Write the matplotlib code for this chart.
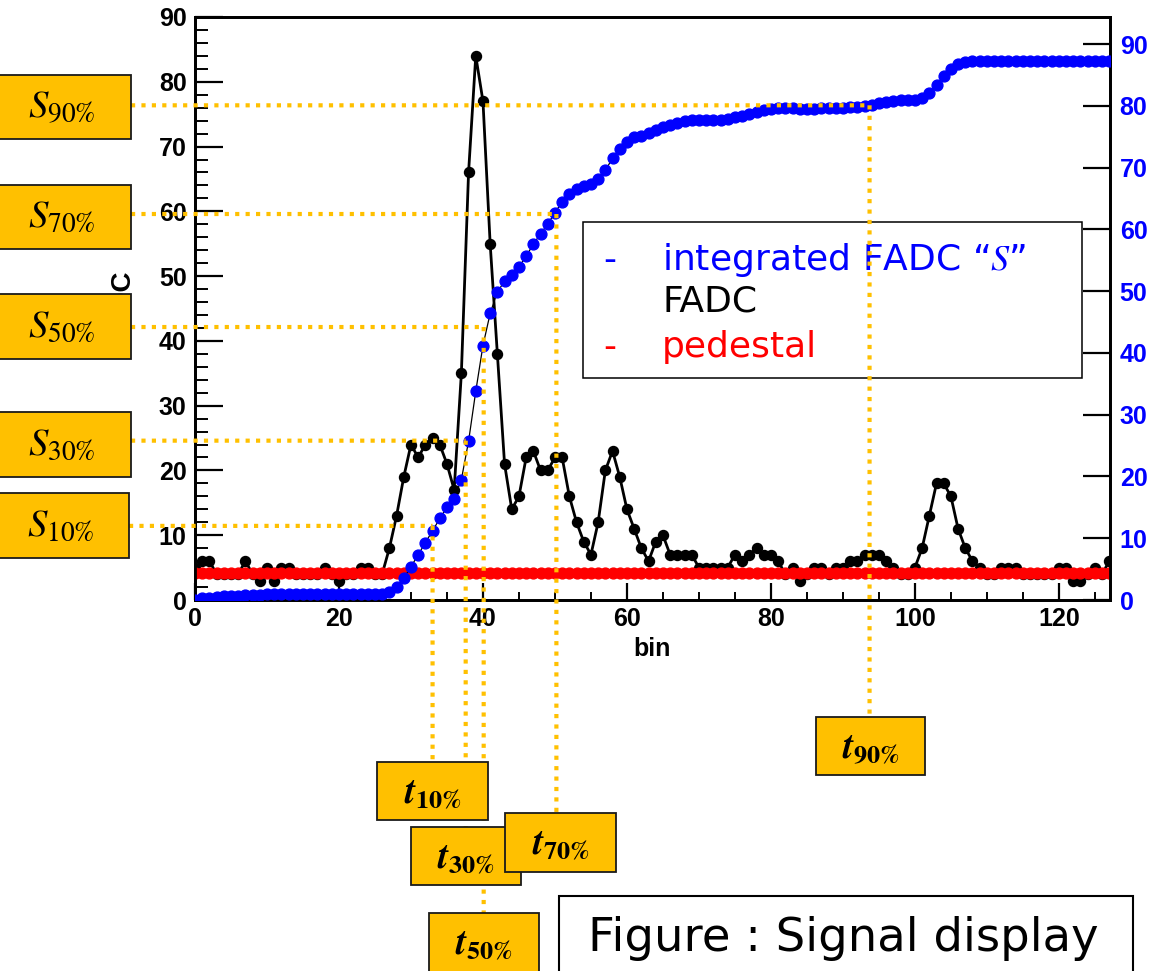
import numpy as np
import matplotlib
matplotlib.use("Agg")
import matplotlib.pyplot as plt
from matplotlib.patches import Rectangle, ConnectionPatch
from matplotlib.ticker import MultipleLocator
import matplotlib.transforms as mtransforms

plt.rcParams["font.family"] = ["Liberation Sans", "DejaVu Sans"]
plt.rcParams["mathtext.fontset"] = "stix"

# ---- data -------------------------------------------------------------
bins = np.arange(128)

fadc = [
    5, 6, 6, 4, 4, 4, 4, 6, 4, 3,
    5, 3, 5, 5, 4, 4, 4, 4, 5, 4,
    3, 4, 4, 5, 5, 4, 4, 8, 13, 19,
    24, 22, 24, 25, 24, 21, 17, 35, 66, 84,
    77, 55, 38, 21, 14, 16, 22, 23, 20, 20,
    22, 22, 16, 12, 9, 7, 12, 20, 23, 19,
    14, 11, 8, 6, 9, 10, 7, 7, 7, 7,
    5, 5, 5, 5, 5, 7, 6, 7, 8, 7,
    7, 6, 4, 5, 3, 4, 5, 5, 4, 5,
    5, 6, 6, 7, 7, 7, 6, 5, 4, 4,
    5, 8, 13, 18, 18, 16, 11, 8, 6, 5,
    4, 4, 5, 5, 5, 4, 4, 4, 4, 4,
    5, 5, 3, 3, 4, 5, 4, 6,
]

integrated = [
    0.0, 0.25, 0.4, 0.5, 0.6, 0.65, 0.7, 0.8, 0.85, 0.85,
    0.9, 0.9, 0.9, 0.95, 1.0, 1.0, 1.0, 1.0, 1.0, 1.0,
    1.0, 1.0, 1.0, 1.0, 1.0, 1.0, 1.0, 1.3, 2.1, 3.5,
    5.4, 7.3, 9.3, 11.2, 13.2, 15.0, 16.4, 19.5, 25.7, 33.8,
    41.2, 46.4, 49.9, 51.6, 52.7, 53.9, 55.7, 57.6, 59.3, 60.9,
    62.7, 64.5, 65.7, 66.5, 67.0, 67.3, 68.1, 69.6, 71.5, 73.1,
    74.1, 74.9, 75.2, 75.6, 76.1, 76.6, 76.9, 77.2, 77.5, 77.7,
    77.7, 77.7, 77.8, 77.8, 77.9, 78.2, 78.4, 78.7, 79.0, 79.3,
    79.5, 79.6, 79.6, 79.6, 79.5, 79.5, 79.5, 79.6, 79.6, 79.6,
    79.7, 79.8, 79.9, 80.0, 80.2, 80.5, 80.7, 80.8, 80.9, 80.9,
    80.9, 81.3, 82.1, 83.4, 84.8, 86.0, 86.8, 87.1, 87.2, 87.3,
    87.3, 87.3, 87.3, 87.3, 87.3, 87.3, 87.3, 87.3, 87.3, 87.3,
    87.3, 87.3, 87.3, 87.3, 87.3, 87.3, 87.3, 87.3,
]

pedestal_level = 4.2

fractions = ["10", "30", "50", "70", "90"]
s_levels = [12.0, 25.8, 44.2, 62.5, 80.1]     # integrated-signal thresholds
t_bins = [33.0, 37.6, 40.1, 50.2, 93.7]       # bins where S crosses them

# ---- figure geometry (pixels, origin top-left) ------------------------
W, H = 1152, 971
fig = plt.figure(figsize=(W / 100, H / 100), dpi=100)


def fx(x):
    return x / W


def fy(y):
    return 1 - y / H


ax = fig.add_axes([fx(195), fy(600), (1110 - 195) / W, (600 - 17) / H])
ax2 = ax.twinx()

# ---- series -----------------------------------------------------------
ax.plot(bins, fadc, color="black", lw=2.0, marker="o", ms=7.2, zorder=2)
ax.plot(bins, [pedestal_level] * len(bins), color="red", lw=2,
        marker="o", ms=7.8, zorder=3)
ax2.plot(bins, integrated, color="black", lw=0.9, marker="o", ms=7.8,
         mfc="blue", mec="blue", zorder=3)

ax.set_xlim(0, 127.1)
ax.set_ylim(0, 90)
ax2.set_ylim(0, 94.4)

ax.xaxis.set_major_locator(MultipleLocator(20))
ax.xaxis.set_minor_locator(MultipleLocator(5))
ax.yaxis.set_major_locator(MultipleLocator(10))
ax.yaxis.set_minor_locator(MultipleLocator(2))
ax2.yaxis.set_major_locator(MultipleLocator(10))

ax.tick_params(axis="y", which="major", direction="in", length=20, width=1.6,
               labelsize=18, pad=6, right=False)
ax.tick_params(axis="y", which="minor", direction="in", length=9.4,
               width=1.4, right=False)
ax.tick_params(axis="x", which="major", direction="in", length=12, width=1.6,
               labelsize=18, pad=5, top=False)
ax.tick_params(axis="x", which="minor", direction="in", length=6, width=1.4,
               top=False)
ax2.tick_params(axis="y", which="major", direction="in", length=19.5,
                width=1.6, labelsize=18, labelcolor="blue", pad=7)

for lab in ax.get_xticklabels() + ax.get_yticklabels() + ax2.get_yticklabels():
    lab.set_fontweight("bold")

for a in (ax, ax2):
    for sp in a.spines.values():
        sp.set_linewidth(2.0)

ax.set_xlabel("bin", fontsize=18, fontweight="bold")
ax.xaxis.set_label_coords(0.5, -0.063)
ax.set_ylabel("FADC", fontsize=20, fontweight="bold")
ax.yaxis.set_label_coords(-0.0656, 0.503)

# ---- legend -----------------------------------------------------------
fig.add_artist(Rectangle((fx(583), fy(378)), (1082 - 583) / W, (378 - 222) / H,
                         transform=fig.transFigure, facecolor="white",
                         edgecolor="black", lw=1.1, zorder=5))
leg_font = dict(fontsize=26, family="DejaVu Sans",
                va="baseline", ha="left", zorder=5.5)
fig.text(fx(603), fy(270), "-", color="blue", **leg_font)
fig.text(fx(662), fy(270), "integrated FADC \u201c$S$\u201d", color="blue", **leg_font)
fig.text(fx(662), fy(312), "FADC", color="black", **leg_font)
fig.text(fx(603), fy(357), "-", color="red", **leg_font)
fig.text(fx(662), fy(357), "pedestal", color="red", **leg_font)

# ---- threshold markers ------------------------------------------------
gold = "#FFC000"
dotted = dict(arrowstyle="-", color=gold, lw=3.0, linestyle=(0, (1, 1.5)),
              capstyle="butt", zorder=6)

s_boxes = [(493, 558, 129), (412, 477, 131), (294, 359, 131),
           (185, 249, 131), (75, 139, 131)]
t_boxes = [(377, 762, 488, 820), (411, 827, 521, 885), (429, 913, 539, 990),
           (505, 813, 616, 872), (816, 717, 925, 775)]

h_trans = mtransforms.blended_transform_factory(fig.transFigure, ax2.transData)
v_trans = mtransforms.blended_transform_factory(ax2.transData, fig.transFigure)

for frac, s, t, sb, tb in zip(fractions, s_levels, t_bins, s_boxes, t_boxes):
    # horizontal guide from the S label to the curve
    fig.add_artist(ConnectionPatch(xyA=(fx(sb[2]), s), coordsA=h_trans,
                                   xyB=(t, s), coordsB=ax2.transData, **dotted))
    # vertical guide from the curve down to the t label
    fig.add_artist(ConnectionPatch(xyA=(t, s), coordsA=ax2.transData,
                                   xyB=(t, fy(tb[1])), coordsB=v_trans, **dotted))

box_style = dict(transform=fig.transFigure, facecolor=gold,
                 edgecolor="#1a1a1a", lw=1.3)

for frac, (top, bot, right) in zip(fractions, s_boxes):
    left = -5
    fig.add_artist(Rectangle((fx(left), fy(bot)), (right - left) / W,
                             (bot - top) / H, zorder=7, **box_style))
    fig.text(fx((left + right) / 2 - 1), fy((top + bot) / 2),
             rf"$S_{{{frac}\%}}$", fontsize=28,
             ha="center", va="center", zorder=7.5)

t_order = [0, 1, 3, 2, 4]
for i in t_order:
    x0, y0, x1, y1 = t_boxes[i]
    fig.add_artist(Rectangle((fx(x0), fy(y1)), (x1 - x0) / W, (y1 - y0) / H,
                             zorder=7 + 0.1 * t_order.index(i), **box_style))
    fig.text(fx((x0 + x1) / 2), fy(y0 + 31),
             rf"$\mathbfit{{t}}_{{\mathbf{{{fractions[i]}\%}}}}$",
             fontsize=27, ha="center", va="center",
             zorder=7.05 + 0.1 * t_order.index(i))

# ---- caption box ------------------------------------------------------
fig.add_artist(Rectangle((fx(559), fy(990)), (1133 - 559) / W, (990 - 896) / H,
                         transform=fig.transFigure, facecolor="white",
                         edgecolor="black", lw=1.5, zorder=8))
fig.text(fx(588), fy(951), "Figure : Signal display", fontsize=33.5,
         family="DejaVu Sans", ha="left", va="baseline", zorder=8.5)

fig.savefig("out.png", dpi=100)
